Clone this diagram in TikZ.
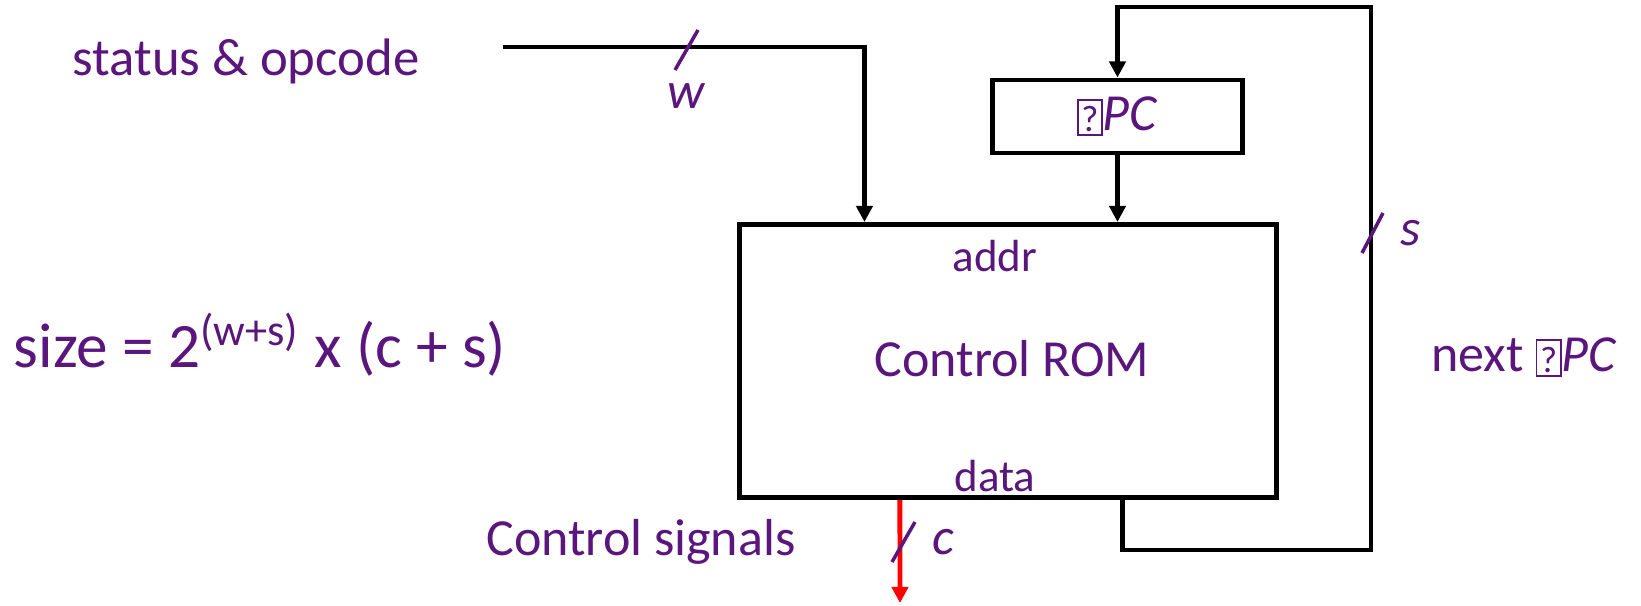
\documentclass[tikz,border=0pt]{standalone}
\usepackage{fontspec}
\setmainfont{Carlito}
\usetikzlibrary{arrows.meta, positioning}
\usepackage{xcolor}
\definecolor{romtext}{RGB}{90,22,124}
\newcommand{\nog}{{\setlength{\fboxsep}{0.3pt}\setlength{\fboxrule}{0.5pt}\raisebox{-0.3pt}{\fbox{\makebox[5.8pt]{\upshape\fontsize{10.5}{10.5}\selectfont\rule[-0.5pt]{0pt}{9pt}?}}}}}

\begin{document}
\begin{tikzpicture}[x=0.01cm, y=-0.01cm,
    wire/.style={line width=1.4pt, line join=miter},
    tip/.style={-{Triangle[length=4.6pt, width=4.6pt]}},
    slash/.style={romtext, line width=1pt},
    lbl/.style={text=romtext, inner sep=0pt, font=\fontsize{14.8}{16}\selectfont},
    small/.style={text=romtext, inner sep=0pt, font=\fontsize{12.8}{14}\selectfont},
    blk/.style={draw, line width=1.4pt, inner sep=0pt}]
  \useasboundingbox (0,0) rectangle (1641,605);
  \node[blk, minimum width=5.36cm, minimum height=2.73cm] (rom) at (1008,361) {};
  \node[lbl] (romname) at (1012,359) {Control ROM};
  \node[small] (addr) at (995,256) {addr};
  \node[small] (data) at (995,476) {data};
  \node[blk, minimum width=2.49cm, minimum height=0.73cm, lbl] (upc) at (1117.5,116.5) {\nog\textit{PC}};
  \coordinate (statusin) at (503,47);
  \coordinate (loopbr) at (1371,550);
  \coordinate (looptr) at (1371,7);
  \coordinate (ctrlout) at (900,603);
  \draw[wire, tip] (statusin) -| ([xshift=1.27cm]rom.north west);
  \draw[wire, tip] (upc.south) -- (upc.south |- rom.north);
  \draw[wire, tip] ([xshift=1.14cm]rom.south) |- (loopbr) -- (looptr) -| (upc.north);
  \draw[line width=1.4pt, red, tip] ([xshift=-1.08cm]rom.south) -- (ctrlout);
  \draw[slash] (675,70) -- (698,30);
  \draw[slash] (1362,253) -- (1383,213);
  \draw[slash] (892,562) -- (915,522);
  \node[lbl] (wlbl) at (687,96) {\textit{w}};
  \node[lbl] (slbl) at (1411,233) {\textit{s}};
  \node[lbl] (clbl) at (943,542) {\textit{c}};
  \node[lbl, font=\fontsize{15}{16}\selectfont] (status) at (246,61) {status \& opcode};
  \node[lbl] (nextpc) at (1524,357) {next \nog\textit{PC}};
  \node[lbl] (signals) at (641,542) {Control signals};
  \node[lbl, font=\fontsize{18}{20}\selectfont] (size) at (260,345) {size = 2\textsuperscript{(w+s)} x (c + s)};
\end{tikzpicture}
\end{document}
